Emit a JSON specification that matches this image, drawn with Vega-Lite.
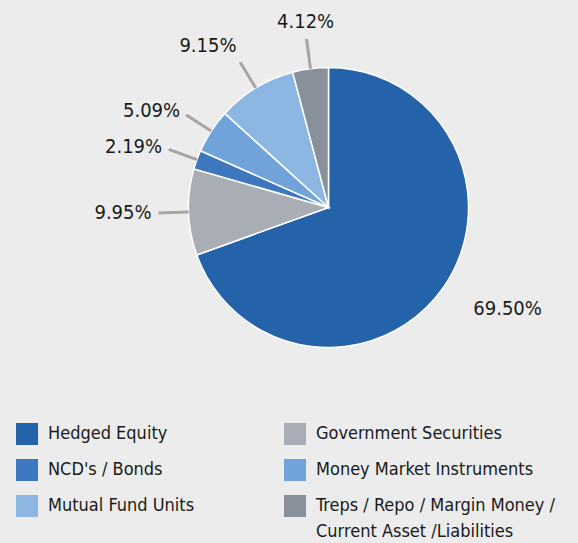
{
  "$schema": "https://vega.github.io/schema/vega-lite/v6.json",
  "width": 499,
  "height": 415,
  "autosize": {"type": "none"},
  "padding": {"left": 79, "top": 0, "right": 0, "bottom": 128},
  "background": "#ebeceb",
  "config": {
    "view": {"stroke": null},
    "style": {"guide-label": {"lineHeight": 26}},
    "legend": {
      "labelFont": "DejaVu Sans Condensed",
      "labelFontSize": 18,
      "labelColor": "#1a1a1a",
      "symbolType": "square",
      "symbolSize": 484,
      "symbolStrokeWidth": 0,
      "symbolOpacity": 1,
      "labelOffset": 10,
      "labelLimit": 400,
      "padding": 0,
      "columnPadding": 89,
      "rowPadding": 14
    }
  },
  "data": {
    "values": [
      {"category": "Hedged Equity", "pct": 0.695, "order": 1},
      {"category": "Government Securities", "pct": 0.0995, "order": 2},
      {"category": "NCD's / Bonds", "pct": 0.0219, "order": 3},
      {"category": "Money Market Instruments", "pct": 0.0509, "order": 4},
      {"category": "Mutual Fund Units", "pct": 0.0915, "order": 5},
      {"category": "Treps / Repo / Margin Money / Current Asset /Liabilities", "pct": 0.0412, "order": 6}
    ]
  },
  "encoding": {
    "theta": {"field": "pct", "type": "quantitative", "stack": true},
    "order": {"field": "order", "type": "quantitative"}
  },
  "layer": [
    {
      "mark": {"type": "arc", "outerRadius": 140, "stroke": "#ffffff", "strokeWidth": 1.5},
      "encoding": {
        "color": {
          "field": "category",
          "type": "nominal",
          "sort": null,
          "scale": {
            "domain": ["Hedged Equity", "Government Securities", "NCD's / Bonds", "Money Market Instruments", "Mutual Fund Units", "Treps / Repo / Margin Money / Current Asset /Liabilities"],
            "range": ["#2462aa", "#a9aeb6", "#3d78bf", "#71a2d9", "#8cb7e2", "#87909b"]
          },
          "legend": {
            "title": null,
            "orient": "none",
            "legendX": -63,
            "legendY": 423,
            "columns": 2,
            "direction": "horizontal",
            "labelExpr": "indexof(datum.label, 'Treps') == 0 ? ['Treps / Repo / Margin Money /', 'Current Asset /Liabilities'] : datum.label"
          }
        }
      }
    },
    {
      "mark": {"type": "arc", "innerRadius": 140, "outerRadius": 170, "padAngle": 3, "fill": "transparent", "stroke": "#a5a5a5", "strokeWidth": 3, "strokeCap": "butt"},
      "encoding": {
        "detail": {"field": "category", "type": "nominal"},
        "strokeOpacity": {"condition": {"test": "datum.pct > 0.5", "value": 0}, "value": 1}
      }
    },
    {
      "mark": {
        "type": "text",
        "radius": 177,
        "font": "DejaVu Sans Condensed",
        "fontSize": 20,
        "color": "#1a1a1a",
        "align": {"expr": "sin(scale('theta', (datum.pct_start + datum.pct_end) / 2)) > 0.3 ? 'left' : (sin(scale('theta', (datum.pct_start + datum.pct_end) / 2)) < -0.3 ? 'right' : 'center')"},
        "baseline": {"expr": "cos(scale('theta', (datum.pct_start + datum.pct_end) / 2)) > 0.7 ? 'bottom' : (cos(scale('theta', (datum.pct_start + datum.pct_end) / 2)) < -0.7 ? 'top' : 'middle')"}
      },
      "encoding": {
        "text": {"field": "pct", "type": "quantitative", "format": ".2%"},
        "detail": {"field": "category", "type": "nominal"}
      }
    }
  ]
}
